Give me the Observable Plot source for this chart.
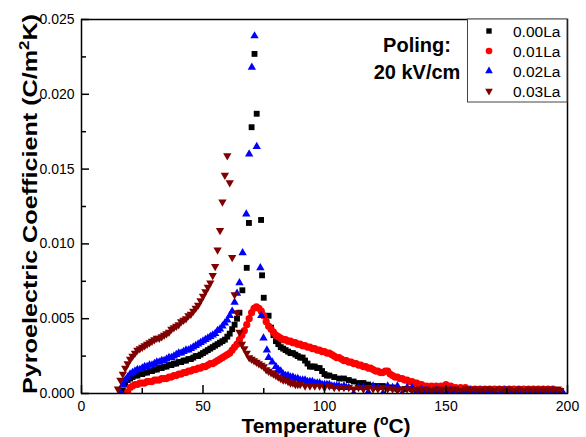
<!DOCTYPE html>
<html><head><meta charset="utf-8">
<script src="https://cdn.jsdelivr.net/npm/d3@7"></script>
<script src="https://cdn.jsdelivr.net/npm/@observablehq/plot@0.6"></script>
<style>
body{margin:0;background:#fff}
#chart{position:relative;width:586px;height:437px}
</style>
</head><body><div id="chart"></div>
<script>
// ---------- data ----------
const seriesNames = ["0.00La", "0.01La", "0.02La", "0.03La"];
const seriesColors = ["#000000", "#ff0000", "#0000ff", "#800000"];

// 0.00La (black squares)
const t00 = [17,18,19,20,21,22,23,24,25,26,27,28,29,30,31,32,33,34,35,36,37,38,39,40,41,42,43,44,45,46,47,48,49,50,51,52,53,54,55,56,57,58,59,60,61,62,63,64,65,66.2,68,68.9,70,71.2,72.1,73.9,74.3,75,77,78,79,80,81,82,83,84,85,86,87,88,89,90,91,92,93,94,95,96,97,98,99,100,101,102,104,106,108,110,112,114,116,118,120,122,124,126,128,130,133,136,139,142,145,148,151,154,157,160];
const p00 = [0.0002,0.0006,0.0009,0.0010,0.0011,0.0012,0.0012,0.0013,0.0013,0.0014,0.0014,0.0015,0.0015,0.0016,0.0016,0.0017,0.0017,0.0018,0.0018,0.0019,0.0019,0.0020,0.0020,0.0021,0.0021,0.0022,0.0022,0.0023,0.0023,0.0024,0.0025,0.0025,0.0026,0.0027,0.0028,0.0029,0.0030,0.0031,0.0032,0.0033,0.0034,0.0035,0.0036,0.0038,0.0040,0.0043,0.0046,0.0050,0.0054,0.0069,0.0084,0.0114,0.0178,0.0227,0.0187,0.0116,0.0079,0.0064,0.0052,0.0044,0.0039,0.0035,0.0033,0.0031,0.0030,0.0029,0.0028,0.0027,0.0027,0.0026,0.0025,0.0024,0.0024,0.0022,0.0020,0.0018,0.0018,0.0018,0.0017,0.0017,0.0015,0.0013,0.0012,0.0012,0.0011,0.0010,0.0010,0.0009,0.0008,0.0007,0.0007,0.0006,0.0005,0.0005,0.0005,0.0004,0.0004,0.0003,0.0003,0.0003,0.0002,0.0002,0.0002,0.0002,0.0001,0.0001,0.0001,0.0001];

// 0.01La (red circles)
const t01 = [19,20,21,22,23,24,25,26,27,28,29,30,31,32,33,34,35,36,37,38,39,40,41,42,43,44,45,46,47,48,49,50,51,52,53,54,55,56,57,58,59,60,61,62,63,64,65,66,67,68,69,70,71,72,73,74,75,76,77,78,79,80,81,82,83,84,85,86,87,88,89,90,91,92,93,94,95,96,97,98,99,100,101,102,103,104,105,106,107,108,109,110,111,112,113,114,115,116,117,118,119,120,121,122,123,124,125,126,127,128,129,130,131,132,133,134,135,136,137,138,139,140,142,144,146,148,150,152,154,156,158,160,162,164,166,168,170,172,174,176,178,180,182,184,186,188,190,192,194,196,198];
const p01 = [0.0001,0.0004,0.0005,0.0006,0.0006,0.0007,0.0007,0.0007,0.0008,0.0008,0.0008,0.0009,0.0009,0.0009,0.0010,0.0010,0.0010,0.0011,0.0011,0.0012,0.0012,0.0013,0.0013,0.0014,0.0014,0.0015,0.0015,0.0016,0.0016,0.0017,0.0017,0.0018,0.0018,0.0019,0.0020,0.0020,0.0021,0.0022,0.0023,0.0024,0.0025,0.0026,0.0027,0.0029,0.0031,0.0033,0.0036,0.0039,0.0042,0.0046,0.0050,0.0054,0.0057,0.0058,0.0057,0.0055,0.0052,0.0048,0.0045,0.0043,0.0041,0.0039,0.0038,0.0037,0.0036,0.0036,0.0035,0.0035,0.0034,0.0034,0.0033,0.0033,0.0032,0.0032,0.0031,0.0031,0.0030,0.0030,0.0029,0.0029,0.0028,0.0028,0.0027,0.0027,0.0026,0.0025,0.0024,0.0024,0.0023,0.0022,0.0022,0.0021,0.0021,0.0020,0.0020,0.0019,0.0019,0.0018,0.0018,0.0017,0.0017,0.0016,0.0015,0.0015,0.0014,0.0014,0.0015,0.0015,0.0013,0.0012,0.0011,0.0011,0.0010,0.0010,0.0009,0.0009,0.0008,0.0008,0.0007,0.0007,0.0006,0.0006,0.0005,0.0005,0.0005,0.0005,0.0006,0.0005,0.0004,0.0004,0.0004,0.0003,0.0003,0.0003,0.0003,0.0003,0.0003,0.0003,0.0003,0.0003,0.0003,0.0003,0.0003,0.0003,0.0003,0.0003,0.0003,0.0003,0.0003,0.0001];

// 0.02La (blue up-triangles)
const t02 = [16,17,18,19,20,21,22,23,24,25,26,27,28,29,30,31,32,33,34,35,36,37,38,39,40,41,42,43,44,45,46,47,48,49,50,51,52,53,54,55,56,57,58,59,60,61,62,63,64,65,66.3,67.8,69.0,70.1,71.2,72.1,73.6,74.0,74.9,76.3,77.0,78.5,80,81,82,83,84,85,86,87,88,89,90,91,92,93,94,95,96,97,98,99,100,101,102,103,104,105,106,107,108,109,110,112,114,116,118,120,122,124,126,128,130,132,134,136,138,140,142,144,146,148,150,152,154,156,158,160,162,164,166,168,170,172,174,176,178,180,182,184,186,188,190,192,194,196,198];
const p02 = [0.0001,0.0006,0.0009,0.0011,0.0013,0.0014,0.0015,0.0016,0.0016,0.0017,0.0018,0.0018,0.0019,0.0019,0.0020,0.0021,0.0021,0.0022,0.0022,0.0023,0.0024,0.0024,0.0025,0.0026,0.0027,0.0027,0.0028,0.0029,0.0029,0.0030,0.0031,0.0032,0.0033,0.0034,0.0035,0.0036,0.0037,0.0038,0.0039,0.0040,0.0042,0.0043,0.0045,0.0047,0.0049,0.0052,0.0055,0.0061,0.0067,0.0074,0.0094,0.0120,0.0160,0.0218,0.0239,0.0165,0.0084,0.0052,0.0037,0.0029,0.0024,0.0021,0.0018,0.0016,0.0015,0.0013,0.0012,0.0012,0.0011,0.0011,0.0010,0.0010,0.0009,0.0009,0.0009,0.0008,0.0008,0.0008,0.0007,0.0007,0.0007,0.0006,0.0006,0.0006,0.0006,0.0005,0.0005,0.0005,0.0005,0.0004,0.0005,0.0004,0.0004,0.0000,0.0004,0.0004,0.0001,0.0005,0.0004,0.0000,0.0005,0.0004,0.0005,0.0000,0.0004,0.0004,0.0001,0.0003,0.0002,0.0000,0.0002,0.0002,0.0000,0.0002,0.0001,0.0000,0.0002,0.0002,0.0000,0.0002,0.0000,0.0002,0.0001,0.0000,0.0002,0.0002,0.0000,0.0002,0.0000,0.0001,0.0002,0.0000,0.0002,0.0000,0.0002,0.0000,0.0001];

// 0.03La (dark red down-triangles)
const t03 = [15,16,17,18,19,20,21,22,23,24,25,26,27,28,29,30,31,32,33,34,35,36,37,38,39,40,41,42,43,44,45,46,47,48,49,50,51,52,53,54,55,56,57,58,59,60,61,62,63,64,65,66,67,68,69,70,71,72,73,74,75,76,77,78,79,80,81,82,83,84,85,86,87,88,89,90,92,94,96,98,100,102,104,106,108,110,112,114,116,118,120,122,124,126,128,130,132,134,136,138,140,142,144,146,148,150,152,154,156,158,160,162,164,166,168,170,172,174,176,178,180,182,184,186,188,190,192,194,196,197];
const p03 = [0.0003,0.0009,0.0013,0.0017,0.0020,0.0023,0.0025,0.0027,0.0029,0.0030,0.0031,0.0032,0.0033,0.0034,0.0035,0.0036,0.0037,0.0037,0.0038,0.0039,0.0040,0.0041,0.0043,0.0044,0.0045,0.0046,0.0048,0.0049,0.0050,0.0052,0.0053,0.0055,0.0057,0.0059,0.0062,0.0065,0.0068,0.0071,0.0074,0.0079,0.0085,0.0096,0.0109,0.0128,0.0146,0.0159,0.0141,0.0091,0.0066,0.0054,0.0041,0.0033,0.0030,0.0027,0.0024,0.0023,0.0022,0.0021,0.0020,0.0019,0.0018,0.0016,0.0015,0.0014,0.0013,0.0012,0.0011,0.0010,0.0009,0.0009,0.0008,0.0007,0.0007,0.0006,0.0006,0.0006,0.0005,0.0005,0.0005,0.0005,0.0004,0.0005,0.0004,0.0004,0.0004,0.0004,0.0003,0.0004,0.0003,0.0004,0.0003,0.0003,0.0004,0.0003,0.0003,0.0002,0.0003,0.0003,0.0002,0.0003,0.0002,0.0003,0.0002,0.0003,0.0002,0.0003,0.0002,0.0003,0.0002,0.0003,0.0002,0.0003,0.0002,0.0003,0.0003,0.0002,0.0003,0.0002,0.0003,0.0002,0.0003,0.0002,0.0003,0.0002,0.0003,0.0002,0.0003,0.0002,0.0003,0.0002];

const xTicks = [0, 50, 100, 150, 200];
const xMinor = [25, 75, 125, 175];
const yTicks = [0, 0.005, 0.010, 0.015, 0.020, 0.025];
const yMinor = [0.0025, 0.0075, 0.0125, 0.0175, 0.0225];
const annotation = ["Poling:", "20 kV/cm"];

// ---------- build ----------
const toRows = (t, p) => t.map((x, i) => ({t: x, p: p[i]}));
const rows = [toRows(t00, p00), toRows(t01, p01), toRows(t02, p02), toRows(t03, p03)];

const sq3 = Math.sqrt(3);
const triangleDown = {
  draw(context, size) {
    const y = -Math.sqrt(size / (sq3 * 3));
    context.moveTo(0, -y * 2);
    context.lineTo(sq3 * y, y);
    context.lineTo(-sq3 * y, y);
    context.closePath();
  }
};
const symbols = ["square", "circle", "triangle", triangleDown];
const radii = [3.3, 3.6, 3.1, 3.1];
const d3symbols = [d3.symbolSquare, d3.symbolCircle, d3.symbolTriangle, triangleDown];

const FONT = "'Liberation Sans', Arial, Helvetica, sans-serif";

const chart = Plot.plot({
  width: 586,
  height: 437,
  marginLeft: 81,
  marginRight: 19,
  marginTop: 19,
  marginBottom: 44,
  style: {fontFamily: FONT, fontSize: "14px", color: "#000", background: "#fff", overflow: "visible"},
  x: {domain: [0, 200]},
  y: {domain: [0, 0.025]},
  marks: [
    ...rows.map((r, i) => Plot.dot(r, {x: "t", y: "p", symbol: symbols[i], r: radii[i], fill: seriesColors[i], stroke: "none", clip: true})),
    Plot.frame({stroke: "#000", strokeWidth: 1.5}),
    // inward major / minor ticks
    Plot.axisX(xTicks, {tickSize: -8, fill: "none", stroke: "#000", strokeWidth: 1.5, label: null}),
    Plot.axisX(xMinor, {tickSize: -5, fill: "none", stroke: "#000", strokeWidth: 1.5, label: null}),
    Plot.axisY(yTicks, {tickSize: -8, fill: "none", stroke: "#000", strokeWidth: 1.5, label: null}),
    Plot.axisY(yMinor, {tickSize: -5, fill: "none", stroke: "#000", strokeWidth: 1.5, label: null}),
    // labels
    Plot.axisX(xTicks, {tickSize: 0, tickPadding: 8, stroke: "none", fill: "#000", label: null, tickFormat: d3.format("d"), fontSize: 14}),
    Plot.axisY(yTicks, {tickSize: 0, tickPadding: 7, stroke: "none", fill: "#000", label: null, tickFormat: d3.format(".3f"), fontSize: 14})
  ]
});

document.getElementById("chart").appendChild(chart);

const svg = d3.select(chart);

// axis titles with superscripts
const xt = svg.append("text")
  .attr("x", 326).attr("y", 433)
  .attr("text-anchor", "middle")
  .attr("font-family", FONT).attr("font-weight", "bold").attr("font-size", 21).attr("fill", "#000");
xt.append("tspan").text("Temperature (");
xt.append("tspan").attr("font-size", 14).attr("dy", -8).text("o");
xt.append("tspan").attr("dy", 8).text("C)");

const yt = svg.append("text")
  .attr("transform", "translate(37,204) rotate(-90)")
  .attr("text-anchor", "middle")
  .attr("textLength", 380).attr("lengthAdjust", "spacingAndGlyphs")
  .attr("font-family", FONT).attr("font-weight", "bold").attr("font-size", 21).attr("fill", "#000");
yt.append("tspan").text("Pyroelectric Coefficient (C/m");
yt.append("tspan").attr("font-size", 14).attr("dy", -8).text("2");
yt.append("tspan").attr("dy", 8).text("K)");

// annotation
const an = svg.append("text")
  .attr("text-anchor", "middle")
  .attr("font-family", FONT).attr("font-weight", "bold").attr("font-size", 20).attr("fill", "#000");
annotation.forEach((s, i) => an.append("tspan").attr("x", 417).attr("y", 52 + i * 27).text(s));

// legend
const lg = svg.append("g");
lg.append("rect").attr("x", 467.5).attr("y", 19).attr("width", 99.5).attr("height", 83)
  .attr("fill", "#fff").attr("stroke", "#444").attr("stroke-width", 1);
seriesNames.forEach((name, i) => {
  const cy = 31 + i * 20;
  lg.append("path")
    .attr("transform", `translate(489,${cy})`)
    .attr("d", d3.symbol(d3symbols[i], Math.PI * radii[i] * radii[i] * 0.85)())
    .attr("fill", seriesColors[i]);
  lg.append("text").attr("x", 513).attr("y", cy + 5.5)
    .attr("text-anchor", "start")
    .attr("font-family", FONT).attr("font-size", 15.5).attr("fill", "#000").text(name);
});
</script>
</body></html>
